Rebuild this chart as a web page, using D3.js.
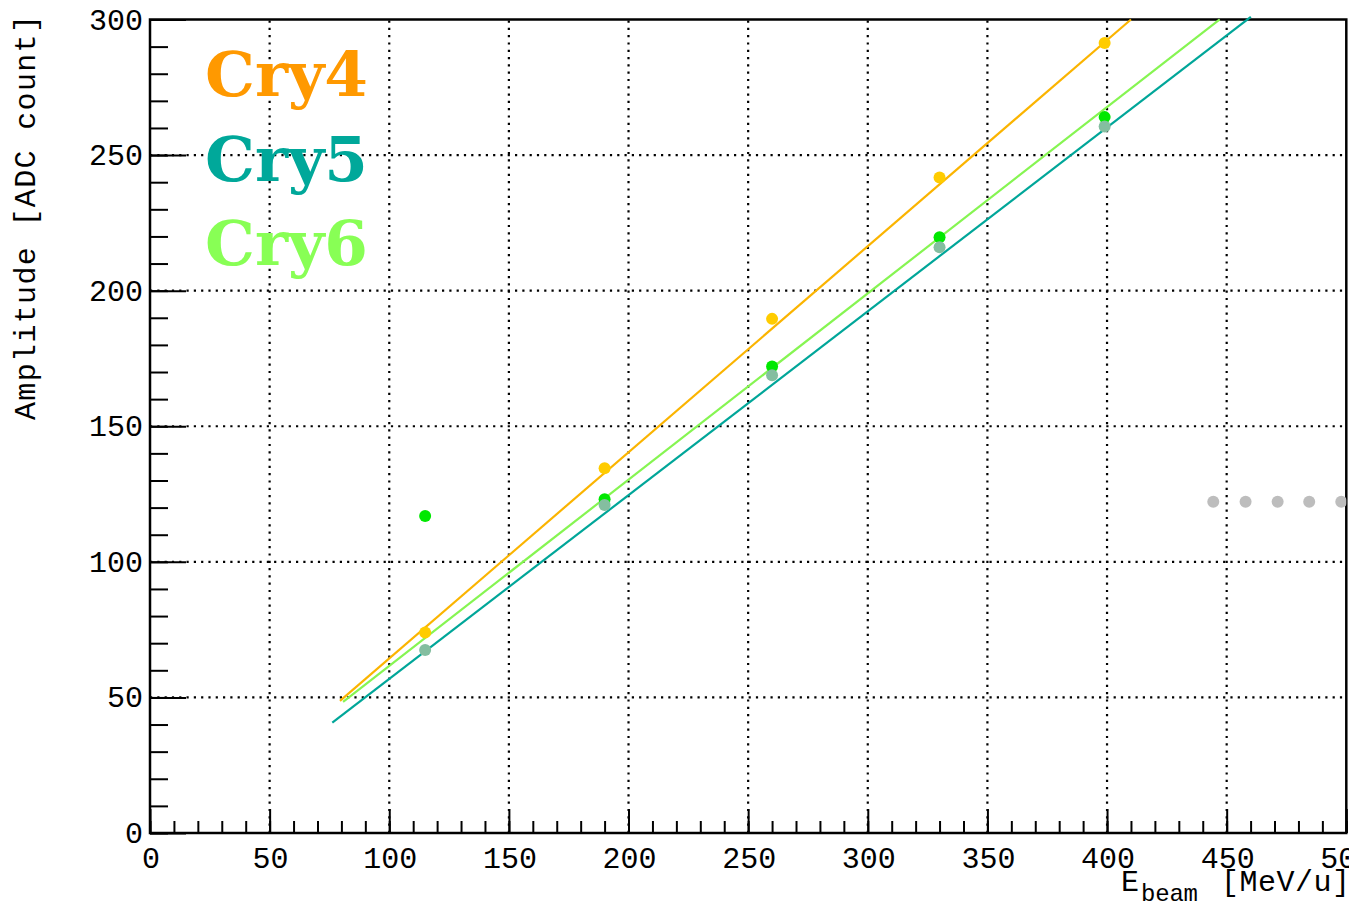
<!DOCTYPE html>
<html><head><meta charset="utf-8">
<script src="https://cdn.jsdelivr.net/npm/d3@7"></script>
<style>html,body{margin:0;padding:0;background:#fff;overflow:hidden}</style>
</head><body>
<svg id="c" width="1353" height="905"></svg>
<script>
// ---- data ----
const energies = [115, 190, 260, 330, 399];
const cry4Amp = [73.9, 134.5, 189.6, 241.7, 291.3];
const cry5Amp = [67.5, 121.0, 168.8, 216.0, 260.5];
const cry6Amp = [116.9, 123.1, 172.0, 219.7, 264.0];
const strayX = [444.4, 457.9, 471.3, 484.5, 497.9];
const strayY = [122.2, 122.2, 122.2, 122.2, 122.2];
// linear fits: [slope, intercept, xmin, xmax]
const fitCry4 = [0.760, -11.6, 79.4, 410.0];
const fitCry5 = [0.678, -11.0, 76.2, 460.1];
const fitCry6 = [0.687, -7.1, 80.7, 447.1];
const xTicks = [0, 50, 100, 150, 200, 250, 300, 350, 400, 450, 500];
const yTicks = [0, 50, 100, 150, 200, 250, 300];
const legendNames = ["Cry4", "Cry5", "Cry6"];

// ---- layout ----
const L = 150, R = 1346.3, T = 19.5, B = 833;
const svg = d3.select("#c");
svg.append("defs").append("clipPath").attr("id","page").append("rect").attr("x",0).attr("y",0).attr("width",1349).attr("height",905);
svg.select("defs").append("clipPath").attr("id","plot").append("rect").attr("x",L).attr("y",T).attr("width",R-L).attr("height",B-T);
const root = svg.append("g").attr("clip-path","url(#page)");
const x = d3.scaleLinear().domain([0,500]).range([L,R]);
const y = d3.scaleLinear().domain([0,300]).range([B,T]);
const FONT = "'Liberation Mono', 'DejaVu Sans Mono', monospace";

// grid
const grid = root.append("g").attr("stroke","#000").attr("stroke-width",2.2).attr("stroke-dasharray","2.2,5.1");
xTicks.filter(v=>v>0&&v<500).forEach(v=>grid.append("line").attr("x1",x(v)).attr("x2",x(v)).attr("y1",B).attr("y2",T));
yTicks.filter(v=>v>0&&v<300).forEach(v=>grid.append("line").attr("y1",y(v)).attr("y2",y(v)).attr("x1",L).attr("x2",R));

// axes
const xAxisMinor = d3.axisTop(x).tickValues(d3.range(0,501,10)).tickSize(12).tickFormat("");
const xAxisMajor = d3.axisTop(x).tickValues(xTicks).tickSize(24).tickFormat("");
const yAxisMinor = d3.axisRight(y).tickValues(d3.range(0,301,10)).tickSize(18).tickFormat("");
const yAxisMajor = d3.axisRight(y).tickValues(yTicks).tickSize(36).tickFormat("");
[xAxisMinor,xAxisMajor].forEach(a=>{const g=root.append("g").attr("transform",`translate(0,${B})`).call(a);g.select(".domain").remove();g.selectAll("line").attr("stroke","#000").attr("stroke-width",2);});
[yAxisMinor,yAxisMajor].forEach(a=>{const g=root.append("g").attr("transform",`translate(${L},0)`).call(a);g.select(".domain").remove();g.selectAll("line").attr("stroke","#000").attr("stroke-width",2);});

// frame
root.append("rect").attr("x",L).attr("y",T).attr("width",R-L).attr("height",B-T).attr("fill","none").attr("stroke","#000").attr("stroke-width",2.5);

// tick labels
root.append("g").selectAll("text").data(xTicks).join("text")
  .attr("x",d=>x(d)+1).attr("y",868).attr("text-anchor","middle")
  .attr("font-family",FONT).attr("font-size",30).text(d=>d);
root.append("g").selectAll("text").data(yTicks).join("text")
  .attr("x",143).attr("y",d=>y(d)+10).attr("text-anchor","end")
  .attr("font-family",FONT).attr("font-size",30).text(d=>d);

// axis titles
root.append("text").attr("x",1121).attr("y",891).attr("font-family",FONT).attr("font-size",30).text("E");
root.append("text").attr("x",1141).attr("y",901).attr("font-family",FONT).attr("font-size",24)
  .attr("textLength",57).attr("lengthAdjust","spacing").text("beam");
root.append("text").attr("x",1221).attr("y",891).attr("font-family",FONT).attr("font-size",30)
  .attr("textLength",129).attr("lengthAdjust","spacing").text("[MeV/u]");
root.append("text").attr("transform","translate(35,420) rotate(-90)").attr("text-anchor","start")
  .attr("font-family",FONT).attr("font-size",30)
  .attr("textLength",405).attr("lengthAdjust","spacing").text("Amplitude [ADC count]");

// fit lines
const fits = [[fitCry4,"#fbb400"],[fitCry6,"#86f552"],[fitCry5,"#00a699"]];
fits.forEach(([f,c])=>{
  root.append("line").attr("x1",x(f[2])).attr("y1",y(f[0]*f[2]+f[1]))
    .attr("x2",x(f[3])).attr("y2",y(f[0]*f[3]+f[1]))
    .attr("stroke",c).attr("stroke-width",2.2);
});

// points
const pts = root.append("g");
pts.selectAll(".c4").data(energies).join("circle").attr("cx",d=>x(d)).attr("cy",(d,i)=>y(cry4Amp[i])).attr("r",6).attr("fill","#ffcc00");
pts.selectAll(".c6").data(energies).join("circle").attr("cx",d=>x(d)).attr("cy",(d,i)=>y(cry6Amp[i])).attr("r",6).attr("fill","#00e800");
pts.selectAll(".c5").data(energies).join("circle").attr("cx",d=>x(d)).attr("cy",(d,i)=>y(cry5Amp[i])).attr("r",6).attr("fill","#84bea0");
root.append("g").attr("clip-path","url(#plot)").selectAll("circle").data(strayX).join("circle")
  .attr("cx",d=>x(d)).attr("cy",(d,i)=>y(strayY[i])).attr("r",6).attr("fill","#bdbdbd");

// legend
const legCol = ["#ff9900","#00a89a","#88ff55"];
root.append("g").selectAll("text").data(legendNames).join("text")
  .attr("x",205).attr("y",(d,i)=>96+i*84.5)
  .attr("font-family","'DejaVu Serif', serif").attr("font-weight","bold")
  .attr("font-size",62).attr("textLength",163).attr("lengthAdjust","spacingAndGlyphs")
  .attr("fill",(d,i)=>legCol[i]).text(d=>d);
</script>
</body></html>
